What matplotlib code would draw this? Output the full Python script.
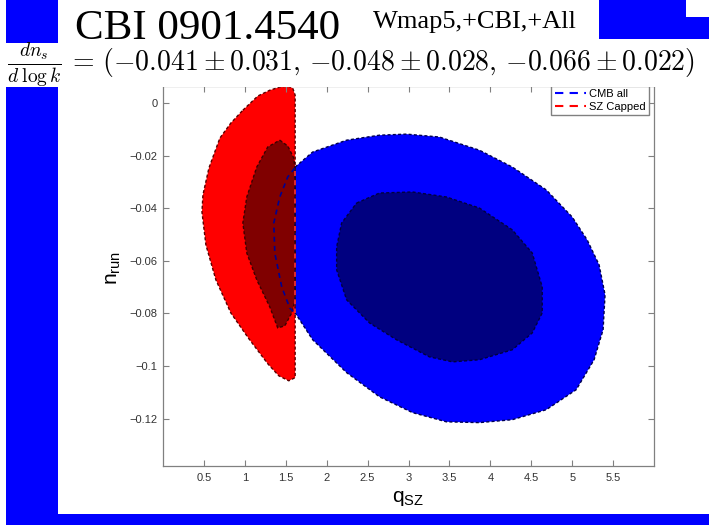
import matplotlib
matplotlib.use('Agg')
import matplotlib.pyplot as plt
from matplotlib.patches import Rectangle
from matplotlib.lines import Line2D

plt.rcParams['font.family'] = ['Liberation Sans', 'DejaVu Sans']

# contour boundaries (q_SZ, n_run)
sz_outer_q = [0.976, 1.159, 1.305, 1.427, 1.524, 1.585, 1.615, 1.615, 1.537, 1.415, 1.280,
              1.049, 0.829, 0.646, 0.524, 0.476, 0.488, 0.561, 0.695, 0.829]
sz_outer_n = [-0.0027, 0.0027, 0.0049, 0.0061, 0.0065, 0.0057, 0.0030, -0.1044, -0.1056, -0.1037, -0.0991,
              -0.0896, -0.0798, -0.0672, -0.0539, -0.0414, -0.0349, -0.0247, -0.0133, -0.0076]

sz_inner_q = [1.427, 1.524, 1.598, 1.615, 1.615, 1.573, 1.488, 1.402, 1.305, 1.146, 1.024,
              0.976, 1.024, 1.146, 1.280]
sz_inner_n = [-0.0141, -0.0163, -0.0209, -0.0254, -0.0748, -0.0798, -0.0847, -0.0855, -0.0775, -0.0672, -0.0570,
              -0.0456, -0.0357, -0.0243, -0.0167]

cmb_outer_q = [1.615, 1.829, 2.244, 2.646, 2.976, 3.378, 3.866, 4.268, 4.683, 5.000, 5.183, 5.329, 5.402,
               5.378, 5.268, 5.049, 4.683, 4.268, 3.866, 3.463, 3.049, 2.646, 2.244, 1.829, 1.615]
cmb_outer_n = [-0.0243, -0.0186, -0.0141, -0.0122, -0.0118, -0.0129, -0.0179, -0.0243, -0.0330, -0.0433,
               -0.0520, -0.0615, -0.0729, -0.0862, -0.0976, -0.1090, -0.1166, -0.1204, -0.1215, -0.1212,
               -0.1177, -0.1117, -0.1025, -0.0900, -0.0798]

cmb_inner_q = [2.366, 2.646, 3.049, 3.463, 3.866, 4.268, 4.512, 4.634, 4.634, 4.512, 4.268, 3.866, 3.537,
               3.256, 2.854, 2.524, 2.244, 2.122, 2.122, 2.183]
cmb_inner_n = [-0.0380, -0.0342, -0.0338, -0.0357, -0.0399, -0.0482, -0.0570, -0.0699, -0.0798, -0.0874,
               -0.0938, -0.0976, -0.0984, -0.0965, -0.0900, -0.0836, -0.0748, -0.0634, -0.0547, -0.0456]

# part of the CMB contour line showing through the SZ region
cmb_line_q = [1.61, 1.524, 1.427, 1.354, 1.366, 1.451, 1.549, 1.61]
cmb_line_n = [-0.0247, -0.0281, -0.0357, -0.0456, -0.0570, -0.0699, -0.0779, -0.0798]

# SZ cap edge
cap_q = [1.615, 1.615]
cap_n = [-0.026, -0.080]

xticks = [0.5, 1, 1.5, 2, 2.5, 3, 3.5, 4, 4.5, 5, 5.5]
xticklabels = ['0.5', '1', '1.5', '2', '2.5', '3', '3.5', '4', '4.5', '5', '5.5']
yticks = [0, -0.02, -0.04, -0.06, -0.08, -0.1, -0.12]
yticklabels = ['0', '\u22120.02', '\u22120.04', '\u22120.06', '\u22120.08', '\u22120.1', '\u22120.12']

W, H = 709, 525
fig = plt.figure(figsize=(W / 100, H / 100), dpi=100)


def box(x0, y0, x1, y1, color, z=0.5):
    # rectangle given in pixels measured from the top-left corner
    r = Rectangle((x0 / W, 1 - y1 / H), (x1 - x0) / W, (y1 - y0) / H,
                  transform=fig.transFigure, facecolor=color, edgecolor='none', zorder=z)
    fig.patches.append(r)


# slide decoration
box(6, 0, 58, 525, '#0000ff')
box(6, 514, 709, 525, '#0000ff')
box(599, 0, 686, 39, '#0000ff')
box(686, 17, 709, 39, '#0000ff')

ax = fig.add_axes([163 / W, 1 - 466 / H, (654 - 163) / W, (466 - 86) / H])


def region(q, n, face, edge):
    ax.fill(q, n, facecolor=face, edgecolor='none')
    ax.plot(q + q[:1], n + n[:1], color=edge, lw=1.0, ls=(0, (2.2, 1.6)))


region(sz_outer_q, sz_outer_n, '#ff0000', '#5a0000')
region(sz_inner_q, sz_inner_n, '#800000', '#3c0000')
ax.plot(cmb_line_q, cmb_line_n, color='#000090', lw=1.2, ls=(0, (3, 2.5)))
region(cmb_outer_q, cmb_outer_n, '#0000ff', '#000050')
region(cmb_inner_q, cmb_inner_n, '#000080', '#000040')
ax.plot(cap_q, cap_n, color='#ff3030', lw=1.2, ls=(0, (3, 2.5)))

ax.set_xlim(0, 6)
ax.set_ylim(-0.138, 0.0065)
ax.set_xticks(xticks)
ax.set_xticklabels(xticklabels)
ax.set_yticks(yticks)
ax.set_yticklabels(yticklabels)
ax.tick_params(direction='in', top=True, right=True, length=4, width=0.8,
               color='#808080', labelcolor='#333333', labelsize=8)
ax.tick_params(axis='x', pad=5)
ax.tick_params(axis='y', pad=4)
for s in ax.spines.values():
    s.set_color('#808080')
    s.set_linewidth(0.9)

ax.set_xlabel('$\\mathregular{q_{SZ}}$', fontsize=15, color='black')
ax.set_ylabel('$\\mathregular{n_{run}}$', fontsize=15, color='black')
ax.xaxis.set_label_coords(0.5, -0.06)
ax.yaxis.set_label_coords(-0.082, 0.52)

handles = [Line2D([], [], color='#0000ff', lw=1.5, ls=(0, (4, 3))),
           Line2D([], [], color='#ff0000', lw=1.5, ls=(0, (4, 3)))]
ax.legend(handles, ['CMB all', 'SZ Capped'], loc='lower right',
          bbox_to_anchor=(649 / W, 1 - 115 / H), bbox_transform=fig.transFigure,
          fontsize=8, frameon=True, fancybox=False, edgecolor='#808080', framealpha=1,
          borderpad=0.3, borderaxespad=0, labelspacing=0.25, handlelength=2.8, handletextpad=0.3)

# title band
box(6, 43, 704, 87, 'white', z=2)
fig.text(75 / W, 1 - 39 / H, 'CBI 0901.4540', fontsize=31, family='Liberation Serif',
         va='baseline', zorder=3)
fig.text(373 / W, 1 - 28 / H, 'Wmap5,+CBI,+All', fontsize=19, family='Liberation Serif',
         va='baseline', zorder=3)
fig.text(7 / W, 1 - 65 / H,
         r'$\frac{dn_s}{d\;\log k}\,=\,({-}0.041 \pm 0.031,\,{-}0.048 \pm 0.028,\,{-}0.066 \pm 0.022)$',
         fontsize=20, math_fontfamily='cm', va='center', zorder=3)

fig.savefig('out.png', dpi=100)
